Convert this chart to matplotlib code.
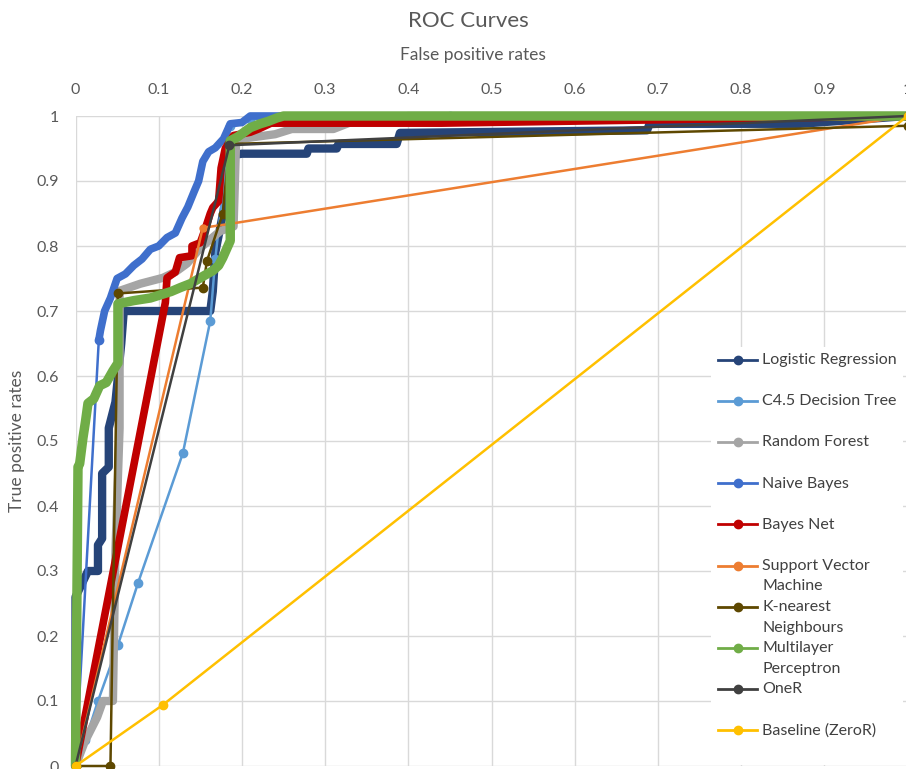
import matplotlib
matplotlib.use("Agg")
import matplotlib.pyplot as plt
from matplotlib.lines import Line2D
from matplotlib.legend_handler import HandlerLine2D

plt.rcParams['font.family'] = ['Lato', 'DejaVu Sans']

# ROC points (false positive rate, true positive rate) for each classifier
lr_fpr = [0, 0, 0, 0.015, 0.027, 0.027, 0.032, 0.032, 0.040, 0.040, 0.048, 0.055, 0.058, 0.10, 0.162,
          0.165, 0.168, 0.185, 0.19, 0.20, 0.278, 0.28, 0.314, 0.316, 0.386, 0.39, 0.687, 0.69, 0.871, 1.0]
lr_tpr = [0, 0.19, 0.26, 0.30, 0.30, 0.34, 0.35, 0.45, 0.46, 0.52, 0.56, 0.65, 0.70, 0.70, 0.70,
          0.73, 0.79, 0.90, 0.94, 0.942, 0.942, 0.95, 0.95, 0.957, 0.957, 0.974, 0.978, 0.988, 0.988, 1.0]

c45_fpr = [0, 0.012, 0.027, 0.051, 0.075, 0.129, 0.162, 0.168, 0.186, 0.21, 0.45, 1.0]
c45_tpr = [0, 0.04, 0.10, 0.186, 0.281, 0.481, 0.685, 0.78, 0.985, 0.995, 1.0, 1.0]

rf_fpr = [0, 0.011, 0.026, 0.033, 0.045, 0.048, 0.053, 0.053, 0.078, 0.105, 0.12, 0.134, 0.15, 0.174,
          0.19, 0.193, 0.20, 0.24, 0.26, 0.31, 0.33, 0.40, 1.0]
rf_tpr = [0, 0.037, 0.075, 0.10, 0.10, 0.33, 0.52, 0.731, 0.742, 0.751, 0.76, 0.773, 0.797, 0.823,
          0.83, 0.96, 0.965, 0.972, 0.98, 0.98, 0.99, 1.0, 1.0]

nb_fpr = [0, 0.028, 0.03, 0.035, 0.042, 0.05, 0.06, 0.07, 0.08, 0.09, 0.10, 0.11, 0.12, 0.128, 0.135,
          0.143, 0.148, 0.153, 0.16, 0.168, 0.178, 0.186, 0.20, 0.21, 1.0]
nb_tpr = [0, 0.655, 0.67, 0.70, 0.72, 0.75, 0.757, 0.77, 0.78, 0.795, 0.80, 0.813, 0.82, 0.843, 0.86,
          0.885, 0.90, 0.93, 0.945, 0.951, 0.965, 0.988, 0.99, 1.0, 1.0]

bn_fpr = [0, 0.108, 0.11, 0.12, 0.125, 0.14, 0.14, 0.15, 0.155, 0.162, 0.165, 0.172, 0.175, 0.18,
          0.19, 0.21, 0.22, 0.235, 0.44, 1.0]
bn_tpr = [0, 0.713, 0.751, 0.76, 0.782, 0.785, 0.80, 0.805, 0.823, 0.85, 0.859, 0.869, 0.92, 0.95,
          0.97, 0.975, 0.98, 0.989, 0.989, 1.0]

svm_fpr = [0, 0.153, 0.185, 1.0]
svm_tpr = [0, 0.828, 0.834, 1.0]

knn_fpr = [0, 0.042, 0.051, 0.153, 0.158, 0.177, 0.185, 1.0, 1.0]
knn_tpr = [0, 0.0, 0.727, 0.736, 0.777, 0.85, 0.957, 0.985, 1.0]

mlp_fpr = [0, 0.003, 0.005, 0.009, 0.012, 0.015, 0.022, 0.029, 0.037, 0.045, 0.051, 0.051, 0.07, 0.09,
           0.105, 0.115, 0.126, 0.138, 0.15, 0.165, 0.172, 0.177, 0.186, 0.186, 0.195, 0.21, 0.222,
           0.232, 0.242, 0.25, 1.0]
mlp_tpr = [0, 0.46, 0.465, 0.505, 0.53, 0.558, 0.565, 0.585, 0.59, 0.608, 0.62, 0.711, 0.716, 0.72,
           0.726, 0.73, 0.736, 0.742, 0.751, 0.762, 0.77, 0.782, 0.808, 0.962, 0.968, 0.982, 0.988,
           0.992, 0.997, 1.0, 1.0]

oner_fpr = [0, 0.185, 1.0]
oner_tpr = [0, 0.955, 1.0]

base_fpr = [0, 0.105, 1.0]
base_tpr = [0, 0.094, 1.0]

names = ['Logistic Regression', 'C4.5 Decision Tree', 'Random Forest', 'Naive Bayes', 'Bayes Net',
         'Support Vector\nMachine', 'K-nearest\nNeighbours', 'Multilayer\nPerceptron', 'OneR',
         'Baseline (ZeroR)']
colors = ['#264478', '#5B9BD5', '#A5A5A5', '#3F6FCC', '#C00000', '#ED7D31', '#5E4800', '#70AD47',
          '#404040', '#FFC000']

# (fpr, tpr, line width, marker size); dense curves are drawn as thick lines
series = [
    (lr_fpr, lr_tpr, 6.0, 0),
    (c45_fpr, c45_tpr, 1.8, 6),
    (rf_fpr, rf_tpr, 6.0, 0),
    (nb_fpr, nb_tpr, 5.5, 0),
    (bn_fpr, bn_tpr, 5.5, 0),
    (svm_fpr, svm_tpr, 1.8, 5),
    (knn_fpr, knn_tpr, 1.8, 6),
    (mlp_fpr, mlp_tpr, 6.8, 0),
    (oner_fpr, oner_tpr, 1.8, 6),
    (base_fpr, base_tpr, 1.8, 6),
]

fig = plt.figure(figsize=(9.06, 7.69), dpi=100)
ax = fig.add_axes([75.5 / 906, 3 / 769, 832 / 906, 650 / 769])

for i, (fx, ty, lw, ms) in enumerate(series):
    if names[i] == 'Naive Bayes':
        # first jump from the origin is a single thin segment
        ax.plot(fx[:2], ty[:2], color=colors[i], lw=1.8, marker='o', ms=6, clip_on=False, zorder=3 + i)
        ax.plot(fx[1:], ty[1:], color=colors[i], lw=lw, solid_joinstyle='round',
                solid_capstyle='round', clip_on=False, zorder=3 + i)
    elif ms == 0:
        ax.plot(fx, ty, color=colors[i], lw=lw, solid_joinstyle='round',
                solid_capstyle='round', clip_on=False, zorder=3 + i)
    else:
        ax.plot(fx, ty, color=colors[i], lw=lw, marker='o', ms=ms, clip_on=False, zorder=3 + i)

ax.set_xlim(0, 1)
ax.set_ylim(0, 1)
ax.set_xticks([i / 10 for i in range(11)])
ax.set_yticks([i / 10 for i in range(11)])
ax.set_xticklabels(['0', '0.1', '0.2', '0.3', '0.4', '0.5', '0.6', '0.7', '0.8', '0.9', '1'])
ax.set_yticklabels(['0', '0.1', '0.2', '0.3', '0.4', '0.5', '0.6', '0.7', '0.8', '0.9', '1'])
ax.xaxis.tick_top()
ax.tick_params(axis='x', length=0, pad=14, labelsize=11.5, labelcolor='#595959')
ax.tick_params(axis='y', length=0, pad=12, labelsize=11.5, labelcolor='#595959')
ax.grid(True, color='#D9D9D9', lw=1)
ax.set_axisbelow(True)
for s in ax.spines.values():
    s.set_visible(False)

ax.set_ylabel('True positive rates', fontsize=12.5, color='#595959', labelpad=8)
fig.text(473 / 906, 1 - 55 / 769, 'False positive rates', ha='center', va='center',
         fontsize=12.5, color='#595959')
fig.text(468 / 906, 1 - 21 / 769, 'ROC Curves', ha='center', va='center',
         fontsize=16, color='#595959')


class RaisedLine(HandlerLine2D):
    # legend handle lifted to sit beside the first line of its label
    def __init__(self, dy, **kw):
        super().__init__(**kw)
        self.dy = dy

    def create_artists(self, legend, orig_handle, xdescent, ydescent, width, height, fontsize, trans):
        arts = super().create_artists(legend, orig_handle, xdescent, ydescent, width, height,
                                      fontsize, trans)
        for a in arts:
            a.set_ydata([y + self.dy for y in a.get_ydata()])
        return arts


# every label gets two lines so all legend rows are equally tall
labels = [n if '\n' in n else n + '\n ' for n in names]
handles = [Line2D([], [], color=c, lw=2, marker='o', ms=6) for c in colors]
hmap = {h: RaisedLine(7.6) for h in handles}
leg = ax.legend(handles, labels, loc='upper left', bbox_to_anchor=(0.764, 0.645), frameon=True,
                fontsize=11.5, labelspacing=0.41, handlelength=2.5, handletextpad=0.3,
                borderaxespad=0, handler_map=hmap, labelcolor='#404040')
for t in leg.get_texts():
    t.set_linespacing(1.6)
leg.get_frame().set_edgecolor('none')
leg.get_frame().set_facecolor('white')
leg.get_frame().set_alpha(1)
leg.set_zorder(20)

fig.savefig('out.png', dpi=100)
